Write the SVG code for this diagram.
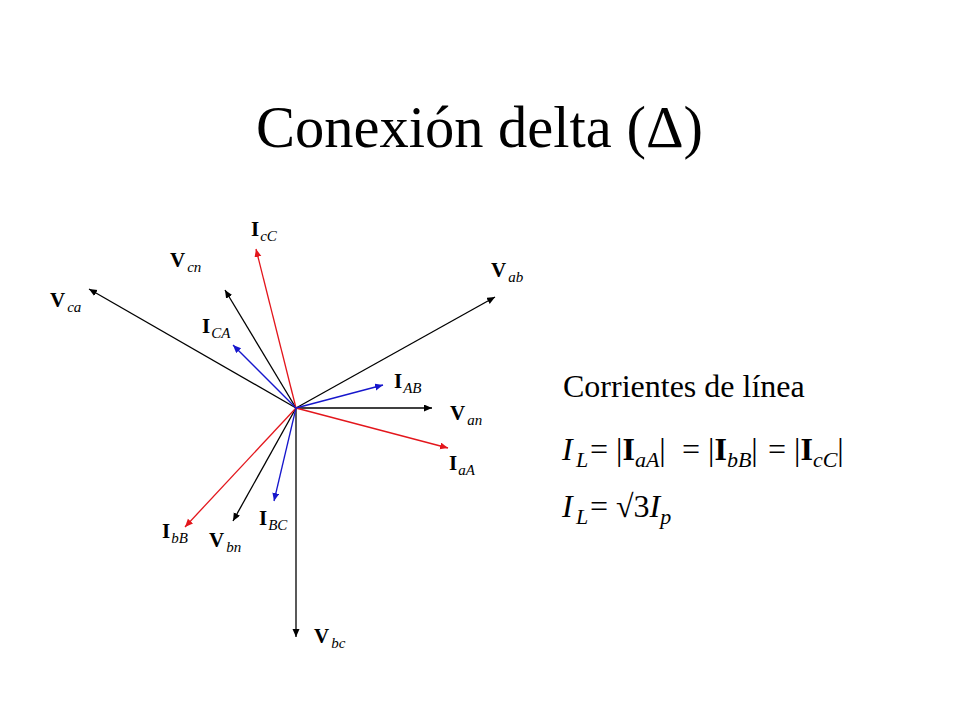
<svg xmlns="http://www.w3.org/2000/svg" width="960" height="720" viewBox="0 0 960 720">
<style>
  .t { font-family: "Liberation Serif", "Times New Roman", serif; fill: #000; }
  .lbl { font-family: "Liberation Serif", "Times New Roman", serif; font-size: 21px; font-weight: bold; fill: #000; }
  .sub { font-size: 15px; font-weight: normal; font-style: italic; }
  .blk { stroke: #000; stroke-width: 1.3; fill: none; marker-end: url(#ak); }
  .red { stroke: #e3161c; stroke-width: 1.3; fill: none; marker-end: url(#ar); }
  .blu { stroke: #1616cc; stroke-width: 1.3; fill: none; marker-end: url(#ab); }
  .eq { font-family: "Liberation Serif", "Times New Roman", serif; font-size: 32px; fill: #000; }
  .it { font-style: italic; }
  .bd { font-weight: bold; }
  .es { font-size: 22px; font-style: italic; }
</style>
<defs>
  <marker id="ak" markerUnits="userSpaceOnUse" markerWidth="10" markerHeight="8" refX="8" refY="3.5" orient="auto"><path d="M0,0 L8,3.5 L0,7 z" fill="#000"/></marker>
  <marker id="ar" markerUnits="userSpaceOnUse" markerWidth="10" markerHeight="8" refX="8" refY="3.5" orient="auto"><path d="M0,0 L8,3.5 L0,7 z" fill="#e3161c"/></marker>
  <marker id="ab" markerUnits="userSpaceOnUse" markerWidth="10" markerHeight="8" refX="8" refY="3.5" orient="auto"><path d="M0,0 L8,3.5 L0,7 z" fill="#1616cc"/></marker>
</defs>
<rect width="960" height="720" fill="#fff"/>
<g id="title"><text class="t" x="256" y="147" font-size="58.5">Conexión delta (Δ)</text></g>
<g id="connectors">
  <line class="blk" x1="296" y1="408" x2="495" y2="297"/>
  <line class="blk" x1="296" y1="408" x2="432" y2="408"/>
  <line class="blk" x1="296" y1="408" x2="89" y2="289"/>
  <line class="blk" x1="296" y1="408" x2="225" y2="290"/>
  <line class="blk" x1="296" y1="408" x2="233" y2="521"/>
  <line class="blk" x1="296" y1="408" x2="296" y2="637"/>
  <line class="red" x1="296" y1="408" x2="448" y2="448"/>
  <line class="red" x1="296" y1="408" x2="256" y2="249"/>
  <line class="red" x1="296" y1="408" x2="185" y2="527"/>
  <line class="blu" x1="296" y1="408" x2="383" y2="385"/>
  <line class="blu" x1="296" y1="408" x2="233" y2="345"/>
  <line class="blu" x1="296" y1="408" x2="274" y2="501"/>
</g>
<g id="n-Vab"><text class="lbl" x="491" y="277">V<tspan class="sub" dx="2" dy="5">ab</tspan></text></g>
<g id="n-Van"><text class="lbl" x="450" y="420">V<tspan class="sub" dx="2" dy="5">an</tspan></text></g>
<g id="n-Vca"><text class="lbl" x="50" y="307">V<tspan class="sub" dx="2" dy="5">ca</tspan></text></g>
<g id="n-Vcn"><text class="lbl" x="170" y="267">V<tspan class="sub" dx="2" dy="5">cn</tspan></text></g>
<g id="n-Vbn"><text class="lbl" x="209" y="547">V<tspan class="sub" dx="2" dy="5">bn</tspan></text></g>
<g id="n-Vbc"><text class="lbl" x="314" y="643">V<tspan class="sub" dx="2" dy="5">bc</tspan></text></g>
<g id="n-IcC"><text class="lbl" x="251" y="236">I<tspan class="sub" dx="1" dy="5">cC</tspan></text></g>
<g id="n-ICA"><text class="lbl" x="202" y="333">I<tspan class="sub" dx="1" dy="5">CA</tspan></text></g>
<g id="n-IAB"><text class="lbl" x="394" y="388">I<tspan class="sub" dx="1" dy="5">AB</tspan></text></g>
<g id="n-IaA"><text class="lbl" x="449" y="470">I<tspan class="sub" dx="1" dy="5">aA</tspan></text></g>
<g id="n-IbB"><text class="lbl" x="162" y="538">I<tspan class="sub" dx="1" dy="5">bB</tspan></text></g>
<g id="n-IBC"><text class="lbl" x="259" y="525">I<tspan class="sub" dx="1" dy="5">BC</tspan></text></g>
<g id="text-right">
  <text class="eq" x="563" y="397">Corrientes de línea</text>
  <text class="eq" x="562" y="460"><tspan class="it">I</tspan><tspan class="es" x="576" dy="7">L</tspan><tspan x="590" dy="-7">= |</tspan><tspan class="bd">I</tspan><tspan class="es" dy="7">aA</tspan><tspan dy="-7">|</tspan><tspan x="682">= |</tspan><tspan class="bd">I</tspan><tspan class="es" dy="7">bB</tspan><tspan dy="-7">|</tspan><tspan x="768">= |</tspan><tspan class="bd">I</tspan><tspan class="es" dy="7">cC</tspan><tspan dy="-7">|</tspan></text>
  <text class="eq" x="562" y="517"><tspan class="it">I</tspan><tspan class="es" x="576" dy="7">L</tspan><tspan x="590" dy="-7">= √3</tspan><tspan class="it">I</tspan><tspan class="es" dy="7">p</tspan></text>
</g>
</svg>
